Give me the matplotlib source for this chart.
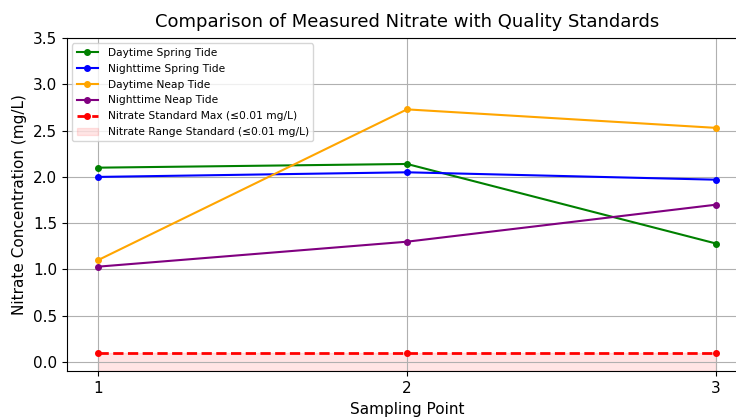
import numpy as np
import matplotlib
matplotlib.use("Agg")
import matplotlib.pyplot as plt

points = [1, 2, 3]
day_spring = [2.10, 2.14, 1.28]
night_spring = [2.00, 2.05, 1.97]
day_neap = [1.10, 2.73, 2.53]
night_neap = [1.03, 1.30, 1.70]
nitrate_max = 0.1

fig = plt.figure(figsize=(7.36, 4.19), dpi=100)
ax = fig.add_axes([0.091, 0.114, 0.924, 0.795])

ax.plot(points, day_spring, marker='o', markersize=4, color='green', label='Daytime Spring Tide')
ax.plot(points, night_spring, marker='o', markersize=4, color='blue', label='Nighttime Spring Tide')
ax.plot(points, day_neap, marker='o', markersize=4, color='orange', label='Daytime Neap Tide')
ax.plot(points, night_neap, marker='o', markersize=4, color='purple', label='Nighttime Neap Tide')
ax.plot(points, [nitrate_max] * 3, marker='o', markersize=4, color='red', linestyle='--',
        linewidth=2, label='Nitrate Standard Max (≤0.01 mg/L)')
ax.fill_between(points, -0.1, nitrate_max, color='red', alpha=0.1,
                label='Nitrate Range Standard (≤0.01 mg/L)')

ax.set_xlim(0.9, 3.1)
ax.set_ylim(-0.1, 3.5)
ax.set_xticks(points)
ax.set_yticks(np.arange(0, 3.51, 0.5))
ax.tick_params(labelsize=11)
ax.set_title('Comparison of Measured Nitrate with Quality Standards', fontsize=13, pad=8)
ax.set_xlabel('Sampling Point', fontsize=11)
ax.set_ylabel('Nitrate Concentration (mg/L)', fontsize=11)
ax.grid(True)
ax.legend(loc='upper left', fontsize=7.7, labelspacing=0.55, handletextpad=0.9)

fig.savefig('out.png', dpi=100)
